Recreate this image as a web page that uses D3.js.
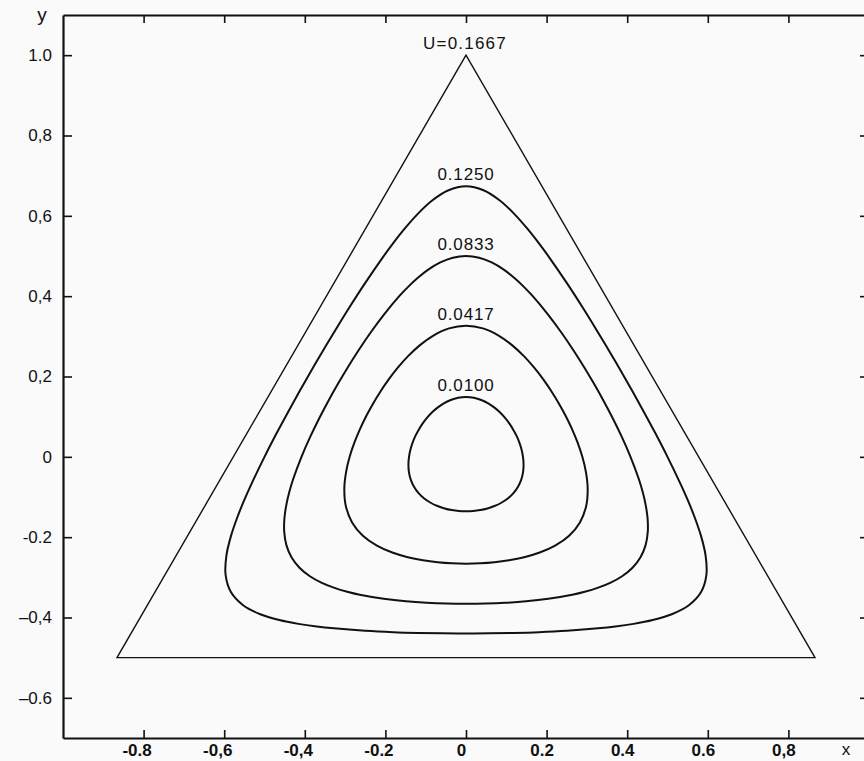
<!DOCTYPE html>
<html><head><meta charset="utf-8">
<script src="https://cdn.jsdelivr.net/npm/d3@7"></script>
<style>html,body{margin:0;padding:0;background:#fafafa;} svg{display:block;}</style>
</head><body>
<svg id="chart" width="864" height="761"></svg>
<script>
// ---- data ----
const xTickValues = [-0.8, -0.6, -0.4, -0.2, 0, 0.2, 0.4, 0.6, 0.8];
const xTickLabels = ["-0.8", "-0,6", "-0,4", "-0.2", "0", "0.2", "0.4", "0.6", "0,8"];
const yTickValues = [1.0, 0.8, 0.6, 0.4, 0.2, 0, -0.2, -0.4, -0.6];
const yTickLabels = ["1.0", "0,8", "0,6", "0,4", "0,2", "0", "-0.2", "\u20130,4", "\u20130.6"];
const triangleX = [0, -0.866, 0.866];
const triangleY = [1.0, -0.5, -0.5];
const boundaryLabel = "U=0.1667";
const contourLabels = ["0.0100", "0.0417", "0.0833", "0.1250"];
// contour outlines read as polar radius (from centre) at each angle (degrees)
const angleCoarse = [0,7.5,15,22.5,30,37.5,45,52.5,60,67.5,75,82.5,90,97.5,105,112.5,
  120,127.5,135,142.5,150,157.5,165,172.5,180,187.5,195,202.5,210,217.5,225,232.5,
  240,247.5,255,262.5,270,277.5,285,292.5,300,307.5,315,322.5,330,337.5,345,352.5];
const angleFine = [0,7.5,15,22.5,30,37.5,45,52.5,60,67.5,71.25,75,78.75,82.5,86.25,90,93.75,97.5,101.25,105,108.75,112.5,
  120,127.5,135,142.5,150,157.5,165,172.5,180,187.5,191.25,195,198.75,202.5,206.25,210,213.75,217.5,221.25,225,228.75,232.5,
  240,247.5,255,262.5,270,277.5,285,292.5,300,307.5,311.25,315,318.75,322.5,326.25,330,333.75,337.5,341.25,345,348.75,352.5];
const radius0100 = [.1414,.1390,.1371,.1359,.1354,.1359,.1371,.1390,.1414,.1441,.1466,.1484,.1490,.1484,.1466,.1441,
  .1414,.1390,.1371,.1359,.1354,.1359,.1371,.1390,.1414,.1441,.1466,.1484,.1490,.1484,.1466,.1441,
  .1414,.1390,.1371,.1359,.1354,.1359,.1371,.1390,.1414,.1441,.1466,.1484,.1490,.1484,.1466,.1441];
const radius0417 = [.2887,.2789,.2718,.2675,.2660,.2675,.2718,.2789,.2887,.3004,.3126,.3225,.3264,.3225,.3126,.3004,
  .2887,.2789,.2718,.2675,.2660,.2675,.2718,.2789,.2887,.3004,.3126,.3225,.3264,.3225,.3126,.3004,
  .2887,.2789,.2718,.2675,.2660,.2675,.2718,.2789,.2887,.3004,.3126,.3225,.3264,.3225,.3126,.3004];
const radius0833 = [.4082,.3894,.3763,.3686,.3660,.3686,.3763,.3894,.4082,.4329,.4469,.4615,.4758,.4882,.4969,.5000,.4969,.4882,.4758,.4615,.4469,.4329,
  .4082,.3894,.3763,.3686,.3660,.3686,.3763,.3894,.4082,.4329,.4469,.4615,.4758,.4882,.4969,.5000,.4969,.4882,.4758,.4615,.4469,.4329,
  .4082,.3894,.3763,.3686,.3660,.3686,.3763,.3894,.4082,.4329,.4469,.4615,.4758,.4882,.4969,.5000,.4969,.4882,.4758,.4615,.4469,.4329];
const radius1250 = [.5000,.4724,.4538,.4432,.4397,.4432,.4538,.4724,.5000,.5383,.5619,.5881,.6162,.6436,.6651,.6736,.6651,.6436,.6162,.5881,.5619,.5383,
  .5000,.4724,.4538,.4432,.4397,.4432,.4538,.4724,.5000,.5383,.5619,.5881,.6162,.6436,.6651,.6736,.6651,.6436,.6162,.5881,.5619,.5383,
  .5000,.4724,.4538,.4432,.4397,.4432,.4538,.4724,.5000,.5383,.5619,.5881,.6162,.6436,.6651,.6736,.6651,.6436,.6162,.5881,.5619,.5383];
const contourRadii = [radius0100, radius0417, radius0833, radius1250];
const contourAngles = [angleCoarse, angleCoarse, angleFine, angleFine];

// ---- drawing ----
const svg = d3.select("#chart");
const FONT = "'Liberation Sans', Arial, Helvetica, sans-serif";
const x = d3.scaleLinear().domain([-1, 1]).range([63, 869]);
const y = d3.scaleLinear().domain([-0.7, 1.1]).range([738, 15]);

// axes
const gB = svg.append("g").attr("transform", `translate(0,${y(-0.7)})`)
  .call(d3.axisBottom(x).tickValues(xTickValues).tickSize(-8).tickSizeOuter(0).tickPadding(6)
    .tickFormat((d, i) => xTickLabels[i]));
gB.selectAll("text").attr("dx", (d) => d < 0 ? -7 : -5).style("font-weight", "bold");
const gT = svg.append("g").attr("transform", `translate(0,${y(1.1)})`)
  .call(d3.axisTop(x).tickValues(xTickValues).tickSize(-8).tickSizeOuter(0).tickFormat(""));
const gL = svg.append("g").attr("transform", `translate(${x(-1)},0)`)
  .call(d3.axisLeft(y).tickValues(yTickValues).tickSize(-9).tickSizeOuter(0).tickPadding(11)
    .tickFormat((d, i) => yTickLabels[i]));
const gR = svg.append("g").attr("transform", `translate(${x(1)},0)`)
  .call(d3.axisRight(y).tickValues(yTickValues).tickSize(-9).tickSizeOuter(0).tickFormat(""));
[gB, gT, gL, gR].forEach(g => {
  g.selectAll(".domain").attr("stroke", "#111").attr("stroke-width", 2.2);
  g.selectAll(".tick line").attr("stroke", "#111").attr("stroke-width", 1.6);
  g.selectAll("text").attr("fill", "#111").style("font-family", FONT).style("font-size", "17px");
});

// axis names
svg.append("text").attr("x", 42).attr("y", 21).attr("text-anchor", "middle")
  .style("font-family", FONT).style("font-size", "19px").attr("fill", "#111").text("y");
svg.append("text").attr("x", 846).attr("y", 755).attr("text-anchor", "middle")
  .style("font-family", FONT).style("font-size", "17px").attr("fill", "#111").text("x");

// triangle boundary U = 0.1667
const tri = triangleX.map((v, i) => [v, triangleY[i]]);
svg.append("path")
  .attr("d", d3.line().x(d => x(d[0])).y(d => y(d[1])).curve(d3.curveLinearClosed)(tri))
  .attr("fill", "none").attr("stroke", "#111").attr("stroke-width", 1.4).attr("stroke-linejoin", "miter");
svg.append("text").attr("x", x(0) - 1).attr("y", y(triangleY[0]) - 6).attr("text-anchor", "middle")
  .style("font-family", FONT).style("font-size", "17px").style("letter-spacing", "1.2px")
  .attr("fill", "#111").text(boundaryLabel);

// contours
const contourLine = d3.line().x(d => x(d[0])).y(d => y(d[1])).curve(d3.curveCatmullRomClosed.alpha(0.5));
contourRadii.forEach((radii, li) => {
  const angles = contourAngles[li];
  const pts = angles.map((a, i) => [radii[i] * Math.cos(a * Math.PI / 180), radii[i] * Math.sin(a * Math.PI / 180)]);
  svg.append("path").attr("d", contourLine(pts))
    .attr("fill", "none").attr("stroke", "#111").attr("stroke-width", 2);
  const top = radii[angles.indexOf(90)];
  svg.append("text").attr("x", x(0)).attr("y", y(top) - 6).attr("text-anchor", "middle")
    .style("font-family", FONT).style("font-size", "17px").style("letter-spacing", "0.8px")
    .attr("fill", "#111").text(contourLabels[li]);
});
</script>
</body></html>
